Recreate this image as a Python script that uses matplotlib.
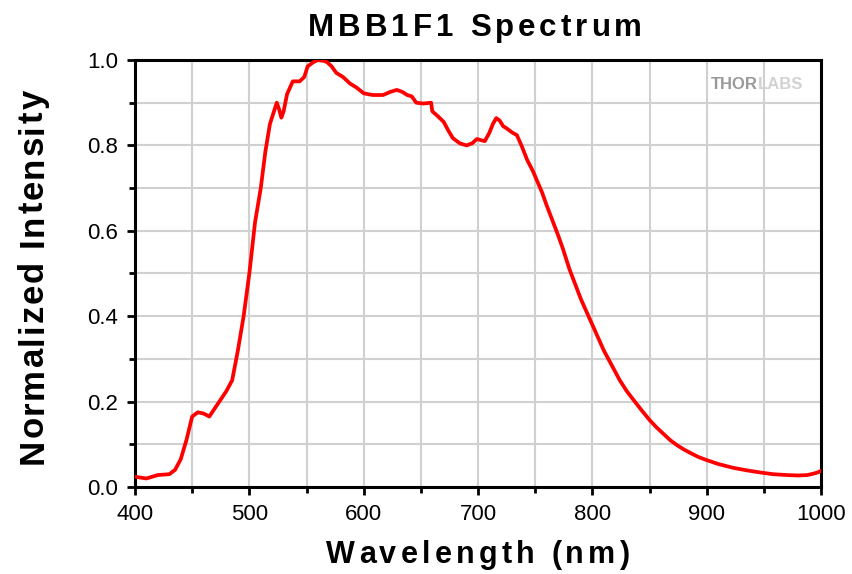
import matplotlib.pyplot as plt
from matplotlib.ticker import MultipleLocator
from matplotlib.font_manager import FontProperties

# Spectrum
wavelength = [400, 410, 420, 430, 435, 440, 445, 450, 455, 460, 465, 470, 475,
              480, 485, 490, 495, 500, 505, 510, 514, 518, 521, 524, 526, 528,
              530, 533, 538, 544, 548, 551, 556, 560, 565, 568, 572, 576, 582,
              588, 594, 600, 608, 617, 623, 629, 634, 638, 642, 646, 652, 659,
              660, 665, 670, 674, 678, 684, 690, 695, 699, 703, 706, 710, 713,
              716, 719, 722, 725, 730, 734, 738, 743, 748, 752, 756, 760, 765,
              770, 774, 780, 790, 800, 810, 820, 824, 830, 836, 843, 850, 856,
              862, 868, 874, 880, 887, 893, 900, 910, 923, 935, 947, 958, 970,
              980, 988, 993, 997, 1000]
intensity = [0.024, 0.020, 0.028, 0.030, 0.040, 0.065, 0.110, 0.165, 0.175, 0.172,
             0.165, 0.185, 0.205, 0.225, 0.250, 0.320, 0.400, 0.500, 0.620, 0.700,
             0.785, 0.850, 0.875, 0.900, 0.885, 0.865, 0.880, 0.920, 0.950, 0.950,
             0.960, 0.985, 0.995, 1.000, 0.998, 0.995, 0.985, 0.970, 0.960,
             0.945, 0.935, 0.922, 0.918, 0.918, 0.925, 0.930, 0.925, 0.918, 0.915,
             0.900, 0.898, 0.900, 0.880, 0.868, 0.855, 0.835, 0.817, 0.805, 0.800,
             0.805, 0.815, 0.812, 0.810, 0.830, 0.850, 0.864, 0.858, 0.845, 0.840,
             0.830, 0.824, 0.800, 0.766, 0.740, 0.715, 0.690, 0.660, 0.625,
             0.590, 0.560, 0.510, 0.440, 0.380, 0.320, 0.270, 0.250, 0.225, 0.204,
             0.180, 0.157, 0.140, 0.125, 0.110, 0.098, 0.088, 0.078, 0.070, 0.063,
             0.054, 0.045, 0.039, 0.034, 0.030, 0.028, 0.027, 0.028, 0.031, 0.034,
             0.038]

plt.rcParams['font.family'] = ['Liberation Sans', 'DejaVu Sans']

W, H = 853, 574
fig = plt.figure(figsize=(W / 100, H / 100), dpi=100)
ax = fig.add_axes([135 / W, 1 - 487 / H, 686 / W, 427 / H])
renderer = fig.canvas.get_renderer()


def text_w(s, prop):
    # width in pixels, measured with a bar so trailing spaces count
    w1 = renderer.get_text_width_height_descent(s + '|', prop, ismath=False)[0]
    w0 = renderer.get_text_width_height_descent('|', prop, ismath=False)[0]
    return w1 - w0


def spaced_text(cx, base, s, size, gap, vertical=False):
    # letter-spaced text; cx = centre along the text, base = baseline, both in pixels
    prop = FontProperties(family='Liberation Sans', weight='bold', size=size)
    total = text_w(s, prop) + gap * (len(s) - 1)
    for i, ch in enumerate(s):
        if ch == ' ':
            continue
        off = text_w(s[:i], prop) + gap * i
        if vertical:
            y_px = cx + total / 2 - off
            fig.text(base / W, 1 - y_px / H, ch, fontproperties=prop, rotation=90,
                     rotation_mode='anchor', ha='left', va='baseline')
        else:
            x_px = cx - total / 2 + off
            fig.text(x_px / W, 1 - base / H, ch, fontproperties=prop,
                     ha='left', va='baseline')


ax.plot(wavelength, intensity, color='#ff0000', lw=2.7, zorder=3)

ax.set_xlim(400, 1000)
ax.set_ylim(0, 1.0)
ax.xaxis.set_major_locator(MultipleLocator(100))
ax.xaxis.set_minor_locator(MultipleLocator(50))
ax.yaxis.set_major_locator(MultipleLocator(0.2))
ax.yaxis.set_minor_locator(MultipleLocator(0.1))
ax.yaxis.set_major_formatter(plt.FuncFormatter(lambda v, p: f"{v:.1f}"))

ax.grid(True, which='both', color='#d0d0d0', lw=1.5, zorder=0)
ax.set_axisbelow(True)

for s in ax.spines.values():
    s.set_linewidth(2.2)
ax.tick_params(which='major', length=6, width=2, labelsize=16, pad=6)
ax.tick_params(which='minor', length=4, width=2)

spaced_text(475, 36, 'MBB1F1 Spectrum', 22.5, 4.0)
spaced_text(478, 563, 'Wavelength (nm)', 22, 4.2)
spaced_text(277, 43, 'Normalized Intensity', 25, 1.8, vertical=True)

# watermark
wm = ax.text(0.84, 0.96, 'THOR', transform=ax.transAxes, fontsize=12,
             fontweight='bold', color='#9a9a9a', ha='left', va='top')
ax.annotate('LABS', xy=(1, 0), xycoords=wm, va='bottom', ha='left',
            fontsize=12, fontweight='bold', color='#d2d2d2')

fig.savefig('out.png', dpi=100)
